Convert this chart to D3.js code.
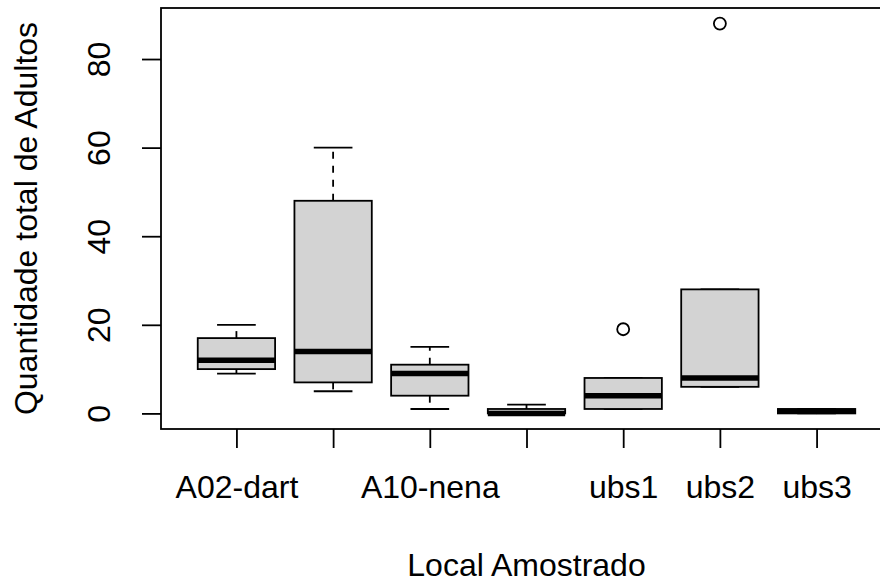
<!DOCTYPE html>
<html>
<head>
<meta charset="utf-8">
<script src="https://cdn.jsdelivr.net/npm/d3@7"></script>
<style>
  body { margin: 0; background: #fff; }
  svg { display: block; font-family: "Liberation Sans", Arial, sans-serif; }
</style>
</head>
<body>
<div id="chart"></div>
<script>
const labels = ["A02-dart", "", "A10-nena", "", "ubs1", "ubs2", "ubs3"];
const lowerWhisker = [9, 5, 1, 0, 1, 6, 0];
const q1 = [10, 7, 4, 0, 1, 6, 0];
const median = [12, 14, 9, 0, 4, 8, 0.5];
const q3 = [17, 48, 11, 1, 8, 28, 1];
const upperWhisker = [20, 60, 15, 2, 8, 28, 1];
const outliers = [
  { group: 5, value: 19 },
  { group: 6, value: 88 }
];
const yTicks = [0, 20, 40, 60, 80];

const width = 880, height = 582;
const plotLeft = 161, plotRight = 892, plotTop = 8, plotBottom = 429;
const fontSize = 32;
const lw = 1.8;

const svg = d3.select("#chart").append("svg")
  .attr("width", width)
  .attr("height", height);

// escalas como no R: xlim = c(0.5, n + 0.5) com 4% extra
const n = labels.length;
const xr = [0.5, n + 0.5];
const xpad = (xr[1] - xr[0]) * 0.04;
const x = d3.scaleLinear()
  .domain([xr[0] - xpad, xr[1] + xpad])
  .range([plotLeft, plotRight]);

const allVals = lowerWhisker.concat(upperWhisker, outliers.map(d => d.value));
const yr = d3.extent(allVals);
const ypad = (yr[1] - yr[0]) * 0.04;
const y = d3.scaleLinear()
  .domain([yr[0] - ypad, yr[1] + ypad])
  .range([plotBottom, plotTop]);

const boxW = 0.8, stapleW = 0.4;
const groups = d3.range(n).map(i => ({
  i: i + 1,
  lo: lowerWhisker[i], q1: q1[i], med: median[i], q3: q3[i], hi: upperWhisker[i]
}));

const g = svg.append("g");

// bigodes tracejados
groups.forEach(d => {
  g.append("line")
    .attr("x1", x(d.i)).attr("x2", x(d.i))
    .attr("y1", y(d.q3)).attr("y2", y(d.hi))
    .attr("stroke", "#000").attr("stroke-width", lw)
    .attr("stroke-dasharray", "7,7");
  g.append("line")
    .attr("x1", x(d.i)).attr("x2", x(d.i))
    .attr("y1", y(d.q1)).attr("y2", y(d.lo))
    .attr("stroke", "#000").attr("stroke-width", lw)
    .attr("stroke-dasharray", "7,7");
  // staples
  [d.lo, d.hi].forEach(v => {
    g.append("line")
      .attr("x1", x(d.i - stapleW / 2)).attr("x2", x(d.i + stapleW / 2))
      .attr("y1", y(v)).attr("y2", y(v))
      .attr("stroke", "#000").attr("stroke-width", lw);
  });
});

// caixas
groups.forEach(d => {
  g.append("rect")
    .attr("x", x(d.i - boxW / 2))
    .attr("y", y(d.q3))
    .attr("width", x(d.i + boxW / 2) - x(d.i - boxW / 2))
    .attr("height", y(d.q1) - y(d.q3))
    .attr("fill", "#d3d3d3")
    .attr("stroke", "#000")
    .attr("stroke-width", lw);
  g.append("line")
    .attr("x1", x(d.i - boxW / 2)).attr("x2", x(d.i + boxW / 2))
    .attr("y1", y(d.med)).attr("y2", y(d.med))
    .attr("stroke", "#000").attr("stroke-width", 5.5);
});

// outliers
g.selectAll(".out")
  .data(outliers)
  .join("circle")
  .attr("cx", d => x(d.group))
  .attr("cy", d => y(d.value))
  .attr("r", 6)
  .attr("fill", "none")
  .attr("stroke", "#000")
  .attr("stroke-width", lw);

// moldura
svg.append("rect")
  .attr("x", plotLeft).attr("y", plotTop)
  .attr("width", plotRight - plotLeft).attr("height", plotBottom - plotTop)
  .attr("fill", "none")
  .attr("stroke", "#000")
  .attr("stroke-width", lw);

// eixo x
const xAxis = svg.append("g")
  .attr("transform", `translate(0,${plotBottom})`)
  .call(d3.axisBottom(x)
    .tickValues(d3.range(1, n + 1))
    .tickFormat(d => labels[d - 1])
    .tickSize(19)
    .tickSizeOuter(0)
    .tickPadding(27));
xAxis.select(".domain").remove();
xAxis.selectAll("line").attr("stroke", "#000").attr("stroke-width", lw);
xAxis.selectAll("text")
  .attr("font-size", fontSize)
  .attr("font-family", "Liberation Sans, Arial, sans-serif")
  .attr("fill", "#000");

// eixo y
const yAxis = svg.append("g")
  .attr("transform", `translate(${plotLeft},0)`)
  .call(d3.axisLeft(y)
    .tickValues(yTicks)
    .tickSize(19)
    .tickSizeOuter(0));
yAxis.select(".domain").remove();
yAxis.selectAll("line").attr("stroke", "#000").attr("stroke-width", lw);
yAxis.selectAll("text")
  .attr("transform", "rotate(-90)")
  .attr("x", 0)
  .attr("y", -(plotLeft - 110))
  .attr("dy", 0)
  .attr("text-anchor", "middle")
  .attr("font-size", fontSize)
  .attr("font-family", "Liberation Sans, Arial, sans-serif")
  .attr("fill", "#000");

// títulos
svg.append("text")
  .attr("x", (plotLeft + plotRight) / 2)
  .attr("y", 576)
  .attr("text-anchor", "middle")
  .attr("font-size", fontSize)
  .text("Local Amostrado");

svg.append("text")
  .attr("transform", `translate(37,${(plotTop + plotBottom) / 2}) rotate(-90)`)
  .attr("text-anchor", "middle")
  .attr("font-size", fontSize)
  .text("Quantidade total de Adultos");
</script>
</body>
</html>
